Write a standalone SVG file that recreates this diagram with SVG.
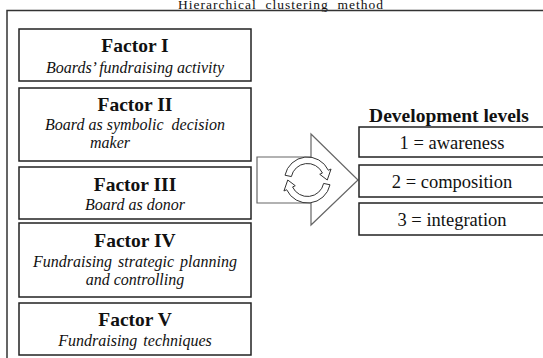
<svg xmlns="http://www.w3.org/2000/svg" width="543" height="358" viewBox="0 0 543 358" font-family="'Liberation Serif', 'Times New Roman', Times, serif">
<style>
.box{fill:#fff;stroke:#222;stroke-width:1.5}
.lvl{fill:#fff;stroke:#222;stroke-width:1.5}
text{font-family:'Liberation Serif','Times New Roman',Times,serif;fill:#111;text-anchor:middle}
.b{font-weight:bold;font-size:19.5px}
.i{font-style:italic;font-size:16px}
.r{font-size:18.5px}
.ring{fill:#fff;stroke:#333;stroke-width:1}
</style>
<rect width="543" height="358" fill="#fff"/>
<text x="280.5" y="9" font-size="13.5" textLength="205" xml:space="preserve">Hierarchical  clustering  method</text>
<rect x="7" y="10.5" width="600" height="400" fill="none" stroke="#333" stroke-width="1.5"/>

<g id="factor1">
<rect class="box" x="19" y="29" width="232" height="52"/>
<text class="b" x="135" y="52">Factor I</text>
<text class="i" x="135" y="73">Boards’ fundraising activity</text>
</g>
<g id="factor2">
<rect class="box" x="19" y="88" width="232" height="73"/>
<text class="b" x="135" y="111">Factor II</text>
<text class="i" x="135" y="130" xml:space="preserve">Board as symbolic  decision</text>
<text class="i" x="90" y="148" style="text-anchor:start">maker</text>
</g>
<g id="factor3">
<rect class="box" x="19" y="167" width="232" height="52"/>
<text class="b" x="135" y="191">Factor III</text>
<text class="i" x="135" y="210">Board as donor</text>
</g>
<g id="factor4">
<rect class="box" x="19" y="223" width="232" height="74"/>
<text class="b" x="135" y="247">Factor IV</text>
<text class="i" x="135" y="267" word-spacing="2">Fundraising strategic planning</text>
<text class="i" x="135" y="285">and controlling</text>
</g>
<g id="factor5">
<rect class="box" x="19" y="303" width="232" height="52"/>
<text class="b" x="135" y="326">Factor V</text>
<text class="i" x="135" y="346" word-spacing="2">Fundraising techniques</text>
</g>

<g id="connectors">
<polygon points="257,157 311,157 311,134 358,180 311,225 311,203 257,203" fill="#fff" stroke="#666" stroke-width="1.2"/>
<g id="cycle-icon">
<path class="ring" d="M285,175.22 A23,23 0 0 1 328.34,170.28 L331.06,169.01 L327.25,180 L319.74,174.29 L322.45,173.03 A16.5,16.5 0 0 0 291.36,176.57 Z"/>
<path class="ring" transform="rotate(180 307.5 180)" d="M285,175.22 A23,23 0 0 1 328.34,170.28 L331.06,169.01 L327.25,180 L319.74,174.29 L322.45,173.03 A16.5,16.5 0 0 0 291.36,176.57 Z"/>
</g>
</g>

<g id="levels">
<text class="b" x="449" y="122">Development levels</text>
</g>
<g id="level1">
<rect class="lvl" x="359" y="127" width="200" height="30"/>
<text class="r" x="452" y="149">1 = awareness</text>
</g>
<g id="level2">
<rect class="lvl" x="359" y="165" width="200" height="32"/>
<text class="r" x="452" y="188">2 = composition</text>
</g>
<g id="level3">
<rect class="lvl" x="359" y="203" width="200" height="32"/>
<text class="r" x="452" y="226">3 = integration</text>
</g>
</svg>
